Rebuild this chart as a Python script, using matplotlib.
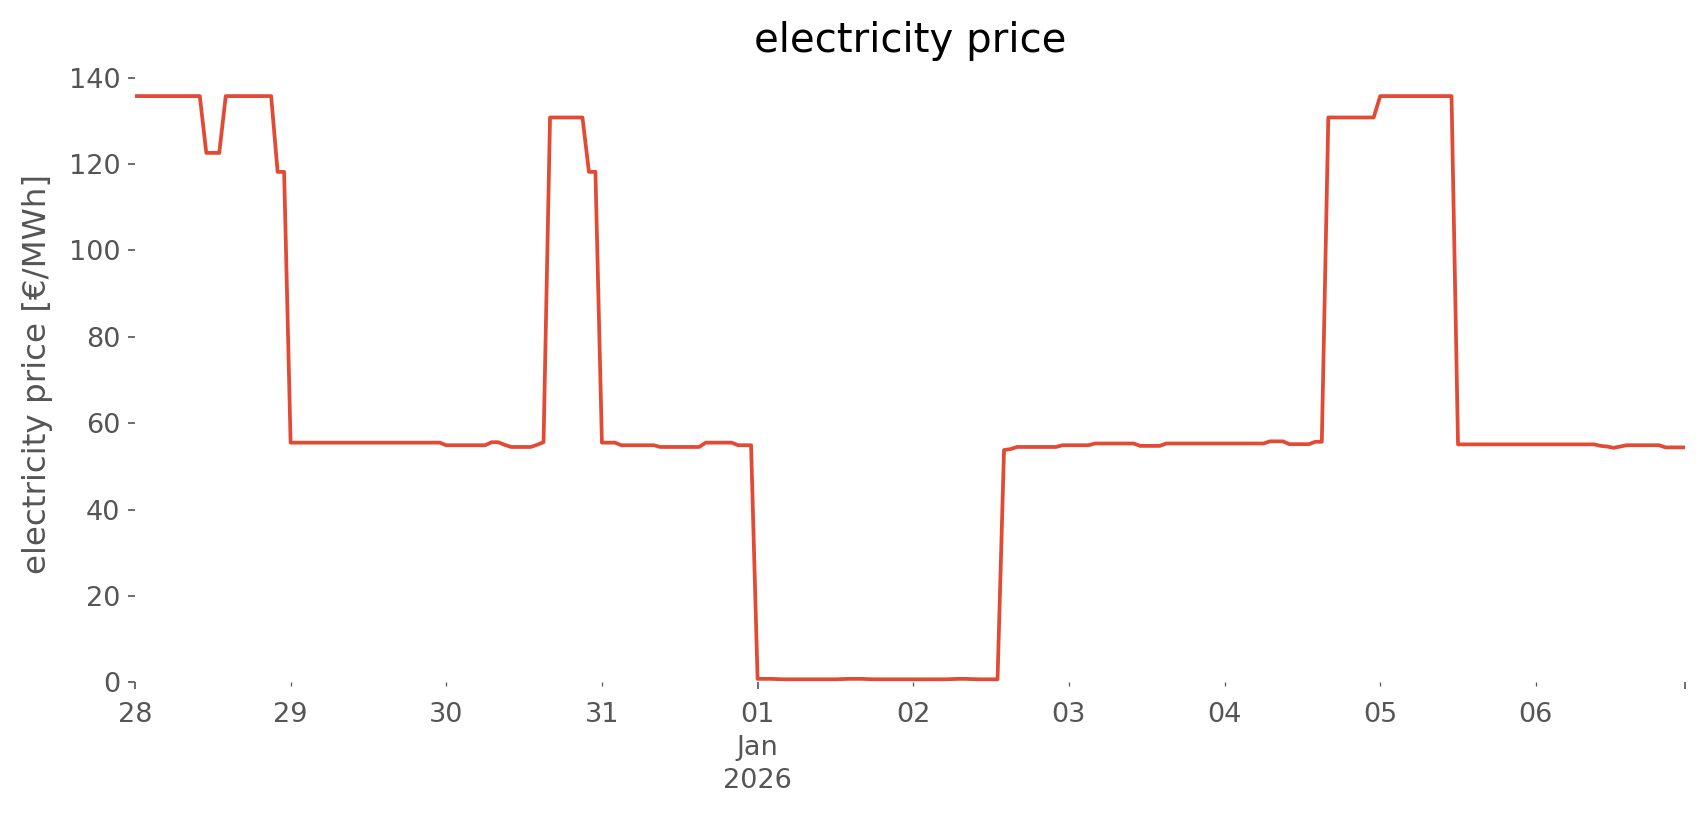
import matplotlib
matplotlib.use("Agg")
import matplotlib.pyplot as plt
import pandas as pd

plt.style.use("ggplot")
plt.rcParams["font.size"] = 13

# hourly electricity price values [EUR/MWh], one list per day
dec28 = [135.75, 135.75, 135.75, 135.75, 135.75, 135.75, 135.75, 135.75, 135.75, 135.75, 135.75,
         122.6, 122.6, 122.6,
         135.75, 135.75, 135.75, 135.75, 135.75, 135.75, 135.75, 135.75,
         118.2, 118.2]
dec29 = [55.5, 55.5, 55.5, 55.5, 55.5, 55.5, 55.5, 55.5, 55.5, 55.5, 55.5, 55.5,
         55.5, 55.5, 55.5, 55.5, 55.5, 55.5, 55.5, 55.5, 55.5, 55.5, 55.5, 55.5]
dec30 = [54.9, 54.9, 54.9, 54.9, 54.9, 54.9, 54.9, 55.6, 55.6, 55.0, 54.5, 54.5,
         54.5, 54.5, 55.0, 55.6, 130.8, 130.8, 130.8, 130.8, 130.8, 130.8, 118.2, 118.2]
dec31 = [55.5, 55.5, 55.5, 54.9, 54.9, 54.9, 54.9, 54.9, 54.9, 54.5, 54.5, 54.5,
         54.5, 54.5, 54.5, 54.5, 55.5, 55.5, 55.5, 55.5, 55.5, 54.9, 54.9, 54.9]
jan01 = [0.8, 0.8, 0.8, 0.75, 0.7, 0.7, 0.7, 0.7, 0.7, 0.7, 0.7, 0.7,
         0.7, 0.75, 0.8, 0.8, 0.8, 0.75, 0.7, 0.7, 0.7, 0.7, 0.7, 0.7]
jan02 = [0.7, 0.7, 0.7, 0.7, 0.7, 0.7, 0.75, 0.8, 0.8, 0.75, 0.7, 0.7,
         0.7, 0.7, 53.8, 54.0, 54.5, 54.5, 54.5, 54.5, 54.5, 54.5, 54.5, 54.9]
jan03 = [54.9, 54.9, 54.9, 54.9, 55.3, 55.3, 55.3, 55.3, 55.3, 55.3, 55.3, 54.75,
         54.75, 54.75, 54.75, 55.3, 55.3, 55.3, 55.3, 55.3, 55.3, 55.3, 55.3, 55.3]
jan04 = [55.3, 55.3, 55.3, 55.3, 55.3, 55.3, 55.3, 55.8, 55.8, 55.8, 55.15, 55.15,
         55.15, 55.15, 55.7, 55.7, 130.8, 130.8, 130.8, 130.8, 130.8, 130.8, 130.8, 130.8]
jan05 = [135.75, 135.75, 135.75, 135.75, 135.75, 135.75, 135.75, 135.75, 135.75, 135.75, 135.75, 135.75,
         55.1, 55.1, 55.1, 55.1, 55.1, 55.1, 55.1, 55.1, 55.1, 55.1, 55.1, 55.1]
jan06 = [55.1, 55.1, 55.1, 55.1, 55.1, 55.1, 55.1, 55.1, 55.1, 55.1, 54.75, 54.6,
         54.3, 54.6, 54.9, 54.9, 54.9, 54.9, 54.9, 54.9, 54.4, 54.4, 54.4, 54.4]

start = "2025-12-28 00:00"
values = dec28 + dec29 + dec30 + dec31 + jan01 + jan02 + jan03 + jan04 + jan05 + jan06
index = pd.date_range(start, periods=len(values), freq="h")
price = pd.Series(values, index=index, name="electricity price")

fig = plt.figure(figsize=(1706 / 150, 815 / 150), dpi=150, facecolor="white")
ax = fig.add_axes([0.0791, 0.1628, 0.9086, 0.7577])
ax.set_facecolor("white")
price.plot(ax=ax, color="#E24A33", lw=1.8)
ax.set_ylim(0, 143)
ax.grid(False)
for s in ax.spines.values():
    s.set_visible(False)
ax.set_title("electricity price", fontsize=19.3, color="black")
ax.set_ylabel("electricity price [€/MWh]", fontsize=15.6, color="#555555", labelpad=7.5)
ax.set_xlabel("")
ax.tick_params(axis="both", which="both", colors="#555555", labelsize=13)
ax.tick_params(axis="x", which="major", pad=6.1)
ax.tick_params(axis="x", which="minor", pad=7.6)

fig.canvas.draw()
for lab in ax.get_xticklabels(which="both"):
    lab.set_linespacing(1.33)

fig.savefig("out.png", dpi=150, facecolor="white")
